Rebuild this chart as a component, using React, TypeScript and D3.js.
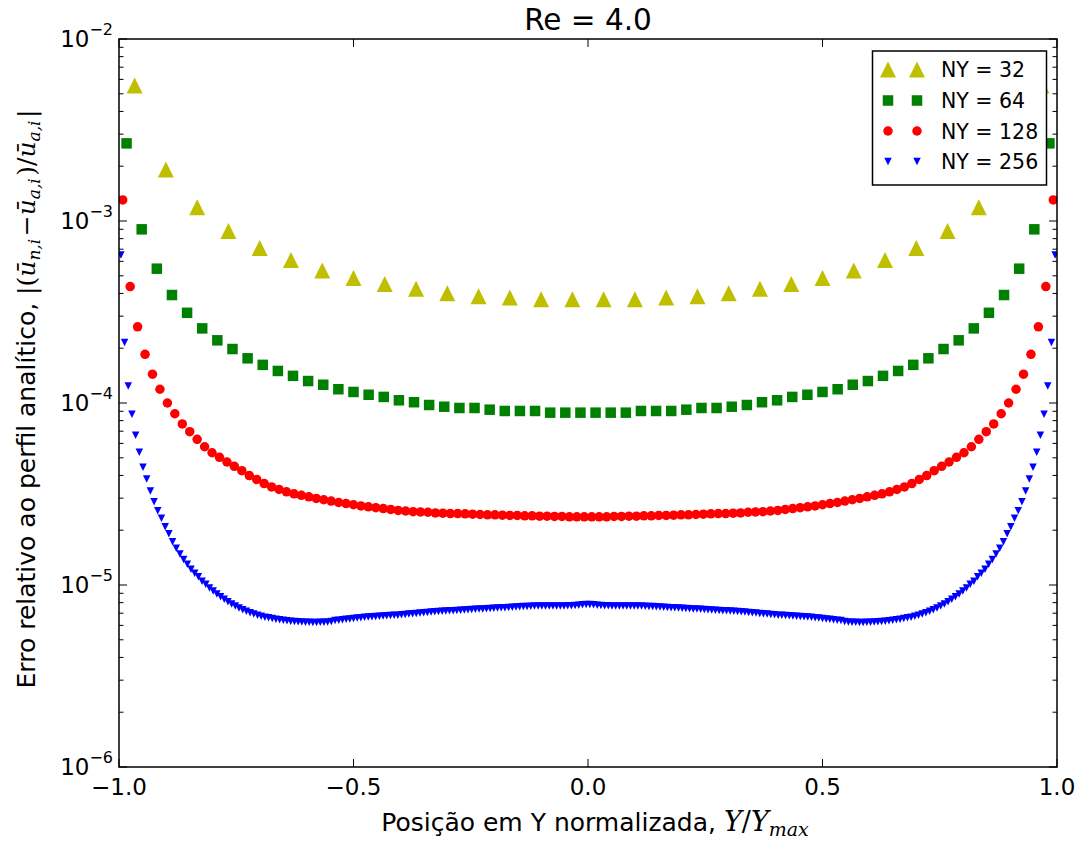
import React from 'react';
import * as d3 from 'd3';

// chart text
const chartTitle = 'Re = 4.0';
const seriesLabels = ['NY = 32', 'NY = 64', 'NY = 128', 'NY = 256'];
const xTicks = [-1.0, -0.5, 0.0, 0.5, 1.0];
const xTickLabels = ['\u22121.0', '\u22120.5', '0.0', '0.5', '1.0'];
const yDecades = [-6, -5, -4, -3, -2];

// relative error per grid point, left wall -> right wall
const errNY32 = [
  5.55e-3, 1.92e-3, 1.19e-3, 8.81e-4, 7.11e-4, 6.1e-4, 5.35e-4, 4.86e-4, 4.51e-4, 4.25e-4,
  4.01e-4, 3.86e-4, 3.8e-4, 3.72e-4, 3.72e-4, 3.72e-4, 3.72e-4, 3.8e-4, 3.86e-4, 4.01e-4,
  4.25e-4, 4.51e-4, 4.86e-4, 5.35e-4, 6.1e-4, 7.11e-4, 8.81e-4, 1.19e-3, 1.92e-3, 5.55e-3,
];

const errNY64 = [
  2.67e-3, 9.0e-4, 5.47e-4, 3.92e-4, 3.13e-4, 2.57e-4, 2.21e-4, 1.98e-4, 1.76e-4, 1.62e-4,
  1.5e-4, 1.41e-4, 1.32e-4, 1.26e-4, 1.19e-4, 1.15e-4, 1.11e-4, 1.08e-4, 1.035e-4, 1.01e-4,
  9.75e-5, 9.54e-5, 9.39e-5, 9.39e-5, 9.19e-5, 9.04e-5, 9.04e-5, 9.04e-5, 8.85e-5, 8.85e-5,
  8.85e-5, 8.85e-5, 8.85e-5, 8.85e-5, 9.04e-5, 9.04e-5, 9.04e-5, 9.19e-5, 9.39e-5, 9.39e-5,
  9.54e-5, 9.75e-5, 1.01e-4, 1.035e-4, 1.08e-4, 1.11e-4, 1.15e-4, 1.19e-4, 1.26e-4, 1.32e-4,
  1.41e-4, 1.5e-4, 1.62e-4, 1.76e-4, 1.98e-4, 2.21e-4, 2.57e-4, 3.13e-4, 3.92e-4, 5.47e-4,
  9.0e-4, 2.67e-3,
];

const errNY128 = [
  1.305e-3, 4.36e-4, 2.62e-4, 1.85e-4, 1.44e-4, 1.19e-4, 1.0e-4, 8.73e-5, 7.67e-5, 6.96e-5,
  6.32e-5, 5.75e-5, 5.33e-5, 5.03e-5, 4.74e-5, 4.49e-5, 4.25e-5, 3.99e-5, 3.8e-5, 3.61e-5,
  3.46e-5, 3.35e-5, 3.25e-5, 3.17e-5, 3.11e-5, 3.05e-5, 2.99e-5, 2.94e-5, 2.89e-5, 2.84e-5,
  2.8e-5, 2.76e-5, 2.72e-5, 2.69e-5, 2.66e-5, 2.63e-5, 2.6e-5, 2.57e-5, 2.55e-5, 2.53e-5,
  2.52e-5, 2.51e-5, 2.49e-5, 2.48e-5, 2.47e-5, 2.47e-5, 2.46e-5, 2.45e-5, 2.44e-5, 2.43e-5,
  2.43e-5, 2.42e-5, 2.41e-5, 2.41e-5, 2.4e-5, 2.4e-5, 2.39e-5, 2.39e-5, 2.38e-5, 2.38e-5,
  2.37e-5, 2.37e-5, 2.37e-5,
  2.37e-5, 2.37e-5, 2.37e-5, 2.38e-5, 2.38e-5, 2.39e-5, 2.39e-5, 2.4e-5, 2.4e-5, 2.41e-5,
  2.41e-5, 2.42e-5, 2.43e-5, 2.43e-5, 2.44e-5, 2.45e-5, 2.46e-5, 2.47e-5, 2.47e-5, 2.48e-5,
  2.49e-5, 2.51e-5, 2.52e-5, 2.53e-5, 2.55e-5, 2.57e-5, 2.6e-5, 2.63e-5, 2.66e-5, 2.69e-5,
  2.72e-5, 2.76e-5, 2.8e-5, 2.84e-5, 2.89e-5, 2.94e-5, 2.99e-5, 3.05e-5, 3.11e-5, 3.17e-5,
  3.25e-5, 3.35e-5, 3.46e-5, 3.61e-5, 3.8e-5, 3.99e-5, 4.25e-5, 4.49e-5, 4.74e-5, 5.03e-5,
  5.33e-5, 5.75e-5, 6.32e-5, 6.96e-5, 7.67e-5, 8.73e-5, 1.0e-4, 1.19e-4, 1.44e-4, 1.85e-4,
  2.62e-4, 4.36e-4, 1.305e-3,
];

const errNY256 = [
  6.5e-4, 2.15e-4, 1.24e-4, 8.67e-5, 6.65e-5, 5.36e-5, 4.43e-5, 3.82e-5, 3.28e-5, 2.87e-5,
  2.56e-5, 2.33e-5, 2.09e-5, 1.91e-5, 1.73e-5, 1.59e-5, 1.48e-5, 1.38e-5, 1.3e-5, 1.22e-5,
  1.16e-5, 1.11e-5, 1.05e-5, 1.01e-5, 9.63e-6, 9.27e-6, 8.93e-6, 8.63e-6, 8.35e-6, 8.1e-6,
  7.86e-6, 7.67e-6, 7.48e-6, 7.32e-6, 7.17e-6, 7.05e-6, 6.93e-6, 6.83e-6, 6.74e-6, 6.66e-6,
  6.6e-6, 6.54e-6, 6.48e-6, 6.44e-6, 6.4e-6, 6.36e-6, 6.33e-6, 6.3e-6, 6.28e-6, 6.26e-6,
  6.25e-6, 6.24e-6, 6.23e-6, 6.23e-6, 6.24e-6, 6.25e-6, 6.27e-6, 6.31e-6, 6.38e-6, 6.41e-6,
  6.44e-6, 6.48e-6, 6.51e-6, 6.55e-6, 6.58e-6, 6.61e-6, 6.64e-6, 6.67e-6, 6.69e-6, 6.71e-6,
  6.73e-6, 6.75e-6, 6.77e-6, 6.79e-6, 6.81e-6, 6.83e-6, 6.86e-6, 6.89e-6, 6.92e-6, 6.95e-6,
  6.98e-6, 7.01e-6, 7.04e-6, 7.07e-6, 7.1e-6, 7.13e-6, 7.15e-6, 7.17e-6, 7.19e-6, 7.21e-6,
  7.23e-6, 7.25e-6, 7.27e-6, 7.29e-6, 7.31e-6, 7.33e-6, 7.35e-6, 7.37e-6, 7.39e-6, 7.41e-6,
  7.43e-6, 7.45e-6, 7.47e-6, 7.49e-6, 7.51e-6, 7.53e-6, 7.55e-6, 7.57e-6, 7.59e-6, 7.61e-6,
  7.63e-6, 7.65e-6, 7.66e-6, 7.67e-6, 7.67e-6, 7.67e-6, 7.67e-6, 7.67e-6, 7.67e-6, 7.67e-6,
  7.67e-6, 7.68e-6, 7.7e-6, 7.72e-6, 7.74e-6, 7.78e-6, 7.82e-6,
  7.82e-6, 7.78e-6, 7.74e-6, 7.72e-6, 7.7e-6, 7.68e-6, 7.67e-6, 7.67e-6, 7.67e-6, 7.67e-6,
  7.67e-6, 7.67e-6, 7.67e-6, 7.67e-6, 7.66e-6, 7.65e-6, 7.63e-6, 7.61e-6, 7.59e-6, 7.57e-6,
  7.55e-6, 7.53e-6, 7.51e-6, 7.49e-6, 7.47e-6, 7.45e-6, 7.43e-6, 7.41e-6, 7.39e-6, 7.37e-6,
  7.35e-6, 7.33e-6, 7.31e-6, 7.29e-6, 7.27e-6, 7.25e-6, 7.23e-6, 7.21e-6, 7.19e-6, 7.17e-6,
  7.15e-6, 7.13e-6, 7.1e-6, 7.07e-6, 7.04e-6, 7.01e-6, 6.98e-6, 6.95e-6, 6.92e-6, 6.89e-6,
  6.86e-6, 6.83e-6, 6.81e-6, 6.79e-6, 6.77e-6, 6.75e-6, 6.73e-6, 6.71e-6, 6.69e-6, 6.67e-6,
  6.64e-6, 6.61e-6, 6.58e-6, 6.55e-6, 6.51e-6, 6.48e-6, 6.44e-6, 6.41e-6, 6.38e-6, 6.31e-6,
  6.27e-6, 6.25e-6, 6.24e-6, 6.23e-6, 6.23e-6, 6.24e-6, 6.25e-6, 6.26e-6, 6.28e-6, 6.3e-6,
  6.33e-6, 6.36e-6, 6.4e-6, 6.44e-6, 6.48e-6, 6.54e-6, 6.6e-6, 6.66e-6, 6.74e-6, 6.83e-6,
  6.93e-6, 7.05e-6, 7.17e-6, 7.32e-6, 7.48e-6, 7.67e-6, 7.86e-6, 8.1e-6, 8.35e-6, 8.63e-6,
  8.93e-6, 9.27e-6, 9.63e-6, 1.01e-5, 1.05e-5, 1.11e-5, 1.16e-5, 1.22e-5, 1.3e-5, 1.38e-5,
  1.48e-5, 1.59e-5, 1.73e-5, 1.91e-5, 2.09e-5, 2.33e-5, 2.56e-5, 2.87e-5, 3.28e-5, 3.82e-5,
  4.43e-5, 5.36e-5, 6.65e-5, 8.67e-5, 1.24e-4, 2.15e-4, 6.5e-4,
];

const W = 1078;
const H = 843;
const plot = { left: 119, right: 1057, top: 39, bottom: 767 };
const FONT = 'DejaVu Sans, Bitstream Vera Sans, sans-serif';
const MATH = 'DejaVu Serif, serif';

type Shape = 'up' | 'square' | 'circle' | 'down';

const series: { label: string; values: number[]; color: string; shape: Shape; size: number }[] = [
  { label: seriesLabels[0], values: errNY32, color: '#bfbf00', shape: 'up', size: 16 },
  { label: seriesLabels[1], values: errNY64, color: '#008000', shape: 'square', size: 10.5 },
  { label: seriesLabels[2], values: errNY128, color: '#ff0000', shape: 'circle', size: 9.5 },
  { label: seriesLabels[3], values: errNY256, color: '#0000ff', shape: 'down', size: 7.5 },
];

function Marker({ shape, size, color, cx, cy }: { shape: Shape; size: number; color: string; cx: number; cy: number }) {
  const h = size / 2;
  if (shape === 'circle') return <circle cx={cx} cy={cy} r={h} fill={color} />;
  if (shape === 'square') return <rect x={cx - h} y={cy - h} width={size} height={size} fill={color} />;
  if (shape === 'up')
    return <path d={`M${cx},${cy - h}L${cx + h},${cy + h}L${cx - h},${cy + h}Z`} fill={color} />;
  return <path d={`M${cx},${cy + h}L${cx + h},${cy - h}L${cx - h},${cy - h}Z`} fill={color} />;
}

export default function App() {
  const x = d3.scaleLinear().domain([-1, 1]).range([plot.left, plot.right]);
  const y = d3.scaleLog().domain([1e-6, 1e-2]).range([plot.bottom, plot.top]);

  // cell-centred positions across the channel
  const gridX = (n: number) => d3.range(n).map((i) => -1 + (2 * i + 1) / n);

  const yTickVals = y.ticks();
  const isMajor = (v: number) => Math.abs(Math.log10(v) - Math.round(Math.log10(v))) < 1e-9;

  const sub = (t: string, size: number, shift: number) => (
    <>
      <tspan fontSize={size} dy={shift}>{t}</tspan>
      <tspan dy={-shift}>{'\u200a'}</tspan>
    </>
  );

  const legend = { x: 872.5, y: 51, w: 174, h: 134 };
  const rowY = [69.5, 100.5, 131, 161.5];

  return (
    <svg width={W} height={H} style={{ position: 'absolute', left: 0, top: 0, background: '#fff' }}>
      <defs>
        <clipPath id="plotClip">
          <rect x={plot.left} y={plot.top} width={plot.right - plot.left} height={plot.bottom - plot.top} />
        </clipPath>
      </defs>
      <rect x={0} y={0} width={W} height={H} fill="#fff" />

      {/* data */}
      <g clipPath="url(#plotClip)">
        {series.map((s) => {
          const xs = gridX(s.values.length);
          return (
            <g key={s.label}>
              {s.values.map((v, i) => (
                <Marker key={i} shape={s.shape} size={s.size} color={s.color} cx={x(xs[i])} cy={y(v)} />
              ))}
            </g>
          );
        })}
      </g>

      {/* ticks */}
      <g stroke="#000" strokeWidth={1}>
        {xTicks.map((t) => (
          <g key={t}>
            <line x1={x(t)} x2={x(t)} y1={plot.bottom} y2={plot.bottom - 8} />
            <line x1={x(t)} x2={x(t)} y1={plot.top} y2={plot.top + 8} />
          </g>
        ))}
        {yTickVals.map((v) => {
          const len = isMajor(v) ? 8 : 4.5;
          return (
            <g key={v}>
              <line x1={plot.left} x2={plot.left + len} y1={y(v)} y2={y(v)} />
              <line x1={plot.right} x2={plot.right - len} y1={y(v)} y2={y(v)} />
            </g>
          );
        })}
      </g>

      {/* frame */}
      <rect
        x={plot.left}
        y={plot.top}
        width={plot.right - plot.left}
        height={plot.bottom - plot.top}
        fill="none"
        stroke="#000"
        strokeWidth={1.5}
      />

      {/* tick labels */}
      <g fontFamily={FONT} fontSize={23} fill="#000">
        {xTicks.map((t, i) => (
          <text key={t} x={x(t)} y={plot.bottom + 28} textAnchor="middle">
            {xTickLabels[i]}
          </text>
        ))}
        {yDecades.map((e) => (
          <text key={e} x={plot.left - 6} y={y(Math.pow(10, e)) + 8} textAnchor="end">
            10
            <tspan fontSize={16} dy={-12}>{`\u2212${Math.abs(e)}`}</tspan>
          </text>
        ))}
      </g>

      {/* title */}
      <text x={(plot.left + plot.right) / 2} y={30} textAnchor="middle" fontFamily={FONT} fontSize={29.5} fill="#000">
        {chartTitle}
      </text>

      {/* x label */}
      <text x={(plot.left + plot.right) / 2 + 7} y={831} textAnchor="middle" fontFamily={FONT} fontSize={25} fill="#000">
        {'Posição em Y normalizada, '}
        <tspan fontFamily={MATH} fontStyle="italic" fontSize={27}>Y</tspan>
        <tspan fontFamily={MATH} fontSize={27}>/</tspan>
        <tspan fontFamily={MATH} fontStyle="italic" fontSize={27}>Y</tspan>
        <tspan fontFamily={MATH} fontStyle="italic" fontSize={19} dy={5}>max</tspan>
      </text>

      {/* y label */}
      <text
        transform={`translate(35, ${(plot.top + plot.bottom) / 2 - 4}) rotate(-90)`}
        textAnchor="middle"
        fontFamily={FONT}
        fontSize={25}
        fill="#000"
      >
        {'Erro relativo ao perfil analítico, '}
        <tspan fontFamily={MATH}>{'|('}</tspan>
        <tspan fontFamily={MATH} fontStyle="italic">ū</tspan>
        <tspan fontFamily={MATH} fontStyle="italic">{sub('n,i', 17, 5)}</tspan>
        <tspan fontFamily={MATH}>{'\u2212'}</tspan>
        <tspan fontFamily={MATH} fontStyle="italic">ū</tspan>
        <tspan fontFamily={MATH} fontStyle="italic">{sub('a,i', 17, 5)}</tspan>
        <tspan fontFamily={MATH}>{')/'}</tspan>
        <tspan fontFamily={MATH} fontStyle="italic">ū</tspan>
        <tspan fontFamily={MATH} fontStyle="italic">{sub('a,i', 17, 5)}</tspan>
        <tspan fontFamily={MATH}>{'|'}</tspan>
      </text>

      {/* legend */}
      <g>
        <rect x={legend.x} y={legend.y} width={legend.w} height={legend.h} fill="#fff" stroke="#000" strokeWidth={1.5} />
        {series.map((s, i) => (
          <g key={s.label}>
            <Marker shape={s.shape} size={s.size} color={s.color} cx={888} cy={rowY[i]} />
            <Marker shape={s.shape} size={s.size} color={s.color} cx={917} cy={rowY[i]} />
            <text x={941} y={rowY[i] + 7.5} fontFamily={FONT} fontSize={20.5} fill="#000">
              {s.label}
            </text>
          </g>
        ))}
      </g>
    </svg>
  );
}
